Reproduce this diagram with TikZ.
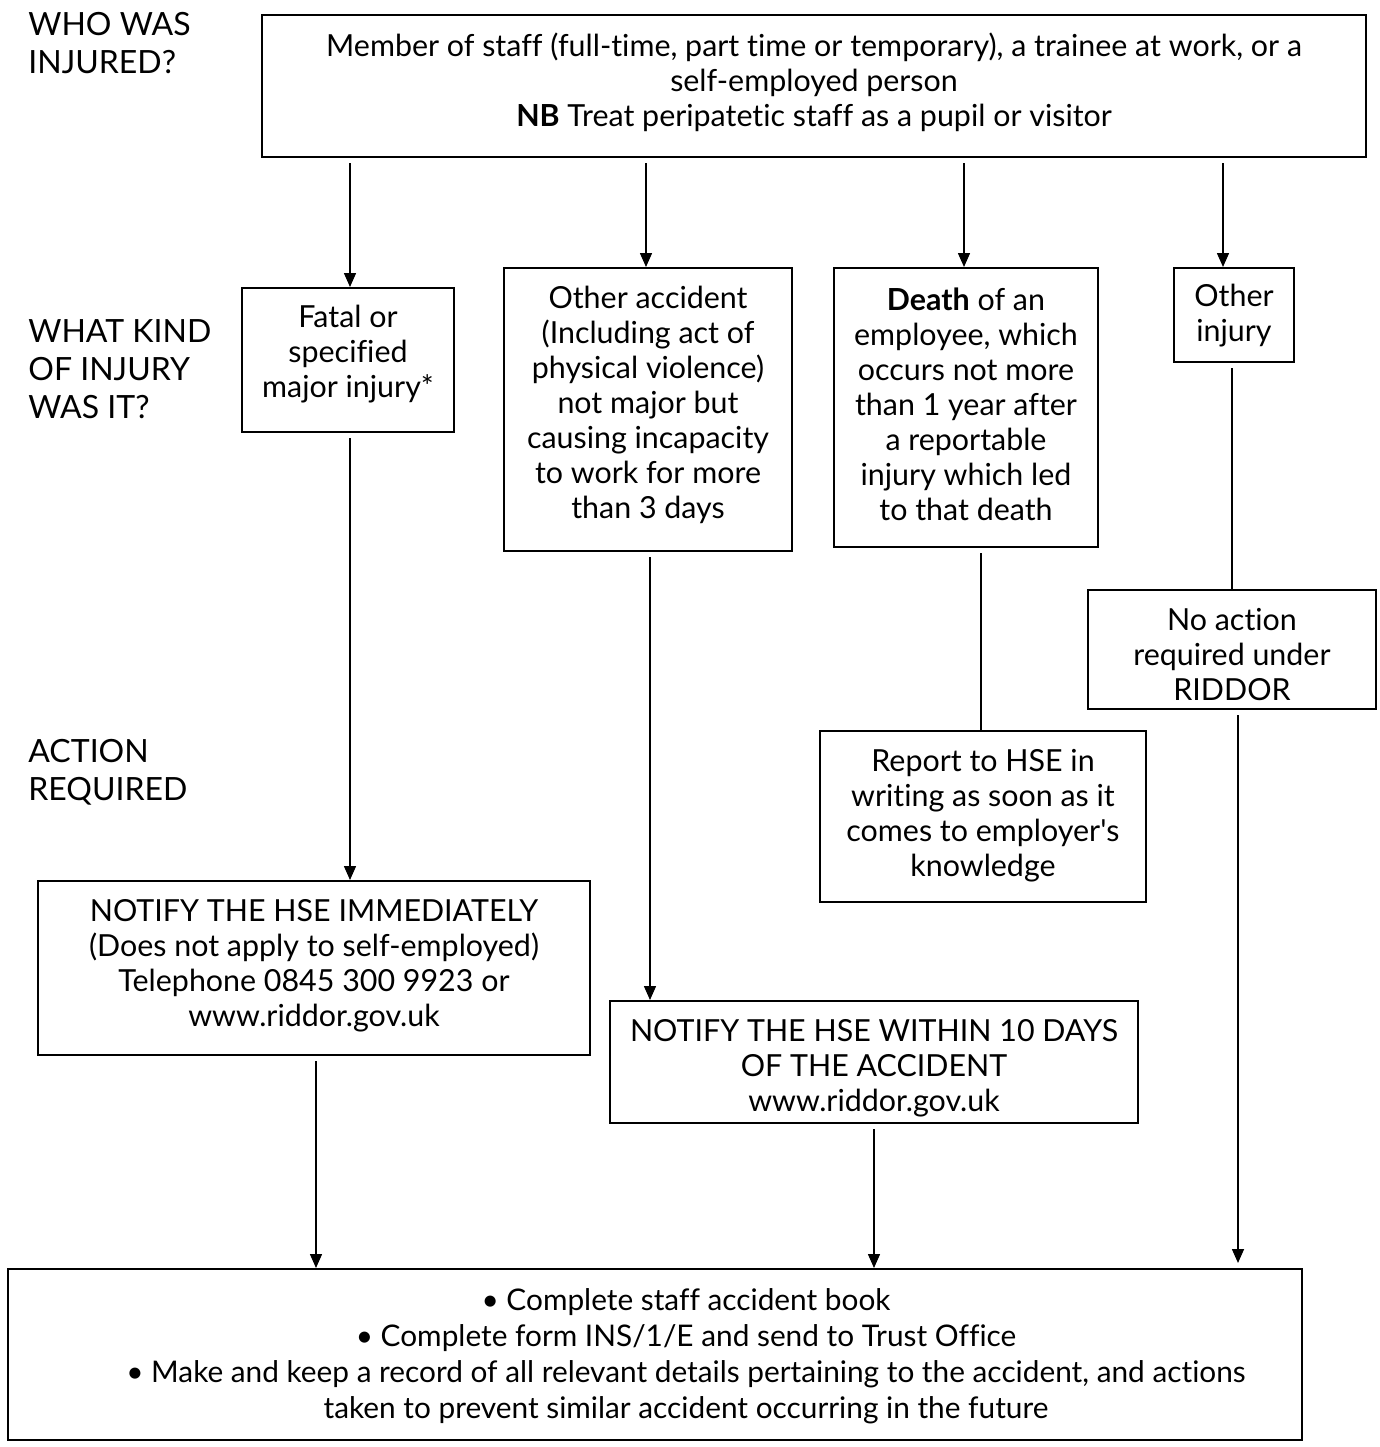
\documentclass[tikz,border=0pt]{standalone}
\usepackage{fontspec}
\setmainfont{Lato}[Ligatures={TeX,NoCommon}]
\usetikzlibrary{arrows.meta}
\begin{document}
\begin{tikzpicture}[x=0.5pt,y=-0.5pt,
  box/.style={draw,line width=1pt,inner sep=0pt,align=center,font=\fontsize{15.2pt}{17.5pt}\selectfont},
  lbl/.style={anchor=west,align=left,inner sep=0pt,font=\fontsize{16pt}{19pt}\selectfont},
  arr/.style={line width=0.75pt,-{Triangle[length=7pt,width=6pt]},shorten <=2.5pt},
  ln/.style={line width=0.75pt,shorten <=2.5pt}]
\useasboundingbox (0,0) rectangle (1380,1447);
\node[lbl] (q1) at (28,43) {WHO WAS\\INJURED?};
\node[lbl] (q2) at (28,369) {WHAT KIND\\OF INJURY\\WAS IT?};
\node[lbl] (q3) at (28,772) {ACTION\\REQUIRED};

\node[box,minimum width=552pt,minimum height=71pt] (top) at (814,86) {};
\node[box,draw=none] (toptext) at (814,82) {Member of staff (full-time, part time or temporary), a trainee at work, or a\\self-employed person\\\textbf{NB} Treat peripatetic staff as a pupil or visitor};

\node[box,minimum width=106pt,minimum height=72pt] (fatal) at (348,360) {};
\node[box,draw=none] at (348,354) {Fatal or\\specified\\major injury*};

\node[box,minimum width=144pt,minimum height=141.5pt] (oacc) at (648,409.5) {};
\node[box,draw=none] at (648,404.5) {Other accident\\(Including act of\\physical violence)\\not major but\\causing incapacity\\to work for more\\than 3 days};

\node[box,minimum width=132pt,minimum height=139.5pt] (death) at (966,407.5) {};
\node[box,draw=none] at (966,404) {\textbf{Death} of an\\employee, which\\occurs not more\\than 1 year after\\a reportable\\injury which led\\to that death};

\node[box,minimum width=60pt,minimum height=47pt] (oinj) at (1234,315) {};
\node[box,draw=none] at (1234,316) {Other\\injury};

\node[box,minimum width=144pt,minimum height=59.5pt] (noact) at (1232,649.5) {};
\node[box,draw=none] at (1232,655) {No action\\required under\\RIDDOR};

\node[box,minimum width=163pt,minimum height=85.5pt] (report) at (983,816.5) {};
\node[box,draw=none] at (983,816) {Report to HSE in\\writing as soon as it\\comes to employer\textquotesingle s\\knowledge};

\node[box,minimum width=276pt,minimum height=87pt] (nimm) at (314,968) {};
\node[box,draw=none] at (314,966) {NOTIFY THE HSE IMMEDIATELY\\(Does not apply to self-employed)\\Telephone 0845 300 9923 or\\www.riddor.gov.uk};

\node[box,minimum width=264pt,minimum height=61pt] (nten) at (874,1062) {};
\node[box,draw=none] at (874,1068) {NOTIFY THE HSE WITHIN 10 DAYS\\OF THE ACCIDENT\\www.riddor.gov.uk};

\node[box,minimum width=647pt,minimum height=85.5pt] (final) at (655,1354.5) {};
\node[box,draw=none,font=\fontsize{14.9pt}{18pt}\selectfont] at (686,1356.5) {• Complete staff accident book\\• Complete form INS/1/E and send to Trust Office\\• Make and keep a record of all relevant details pertaining to the accident, and actions\\taken to prevent similar accident occurring in the future};

\draw[arr] (top.south -| 350,0) -- (fatal.north -| 350,0);
\draw[arr] (top.south -| 646,0) -- (oacc.north -| 646,0);
\draw[arr] (top.south -| 964,0) -- (death.north -| 964,0);
\draw[arr] (top.south -| 1223,0) -- (oinj.north -| 1223,0);
\draw[arr] (fatal.south -| 350,0) -- (nimm.north -| 350,0);
\draw[arr] (oacc.south -| 650,0) -- (nten.north -| 650,0);
\draw[ln] (death.south -| 981,0) -- (report.north -| 981,0);
\draw[ln] (oinj.south -| 1232,0) -- (noact.north -| 1232,0);
\draw[arr,shorten >=2.5pt] (noact.south -| 1238,0) -- (final.north -| 1238,0);
\draw[arr] (nimm.south -| 316,0) -- (final.north -| 316,0);
\draw[arr] (nten.south -| 874,0) -- (final.north -| 874,0);
\end{tikzpicture}
\end{document}
